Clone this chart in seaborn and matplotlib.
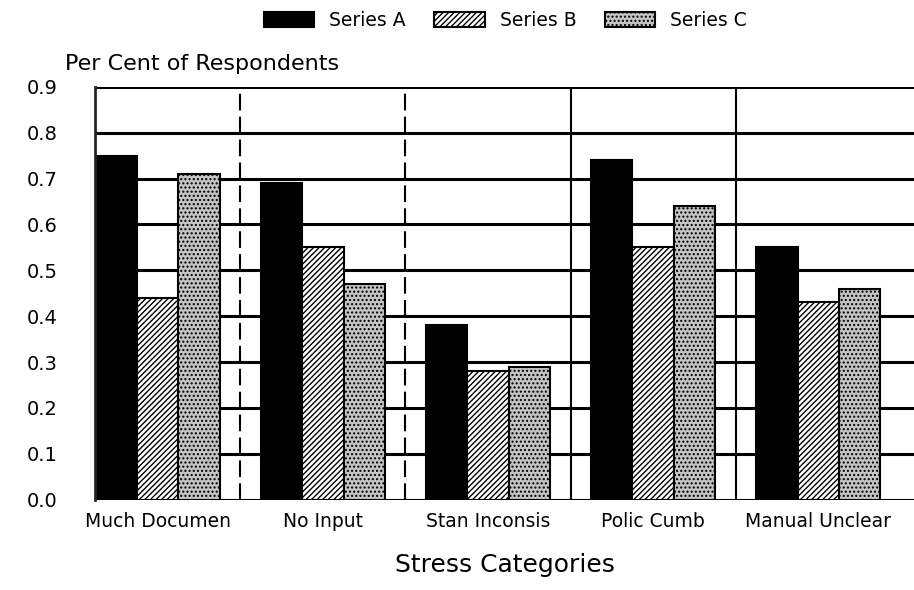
import pandas as pd
import seaborn as sns
import matplotlib.pyplot as plt

# 数据
categories = ['Much Documen', 'No Input', 'Stan Inconsis', 'Polic Cumb', 'Manual Unclear']
series_names = ['Series A', 'Series B', 'Series C']
series_a = [0.75, 0.69, 0.38, 0.74, 0.55]
series_b = [0.44, 0.55, 0.28, 0.55, 0.43]
series_c = [0.71, 0.47, 0.29, 0.64, 0.46]
y_ticks = [0.0, 0.1, 0.2, 0.3, 0.4, 0.5, 0.6, 0.7, 0.8, 0.9]

df = pd.DataFrame({
    'category': categories * 3,
    'series': [s for s in series_names for _ in categories],
    'value': series_a + series_b + series_c,
})

sns.set_style('white')
plt.rcParams['font.family'] = ['DejaVu Sans']
plt.rcParams['hatch.linewidth'] = 1.0
for key in ['text.color', 'axes.labelcolor', 'xtick.color', 'ytick.color']:
    plt.rcParams[key] = 'black'

fig = plt.figure(figsize=(9.14, 5.9), dpi=100)
ax = fig.add_axes([0.104, 0.153, 0.896, 0.70])

# 网格线（画在柱子后面）
for yv in y_ticks:
    ax.axhline(yv, color='black', linewidth=2.2, zorder=0)

colors = {'Series A': 'black', 'Series B': 'white', 'Series C': '#c4c4c4'}
sns.barplot(data=df, x='category', y='value', hue='series', palette=colors,
            width=0.75, saturation=1, edgecolor='black', linewidth=1.5,
            legend=False, ax=ax, zorder=2)

hatches = [None, '//////', '....']
for cont, h in zip(ax.containers, hatches):
    for bar in cont:
        if h:
            bar.set_hatch(h)

# 分组分隔线
for i, xv in enumerate([0.5, 1.5, 2.5, 3.5]):
    ls = (0, (8, 3)) if i < 2 else '-'
    ax.axvline(xv, color='black', linewidth=1.5, linestyle=ls, zorder=1)

ax.set_xlim(-0.38, 4.58)
ax.set_ylim(0, 0.9)
ax.set_yticks(y_ticks)
ax.set_yticklabels([f'{v:.1f}' for v in y_ticks], fontsize=14)
ax.tick_params(axis='x', labelsize=13.5, length=0, pad=9)
ax.tick_params(axis='y', length=0, pad=27)
ax.set_xlabel('Stress Categories', fontsize=18, labelpad=16)
ax.set_ylabel('')

for side in ['top', 'right', 'bottom']:
    ax.spines[side].set_visible(False)
ax.spines['left'].set_linewidth(2)

fig.text(0.071, 0.875, 'Per Cent of Respondents', fontsize=16, ha='left', va='bottom')

handles = [cont[0] for cont in ax.containers]
fig.legend(handles, series_names, loc='center', bbox_to_anchor=(0.553, 0.965),
           ncol=3, frameon=False, fontsize=13.5, handlelength=2.7, handleheight=0.9,
           columnspacing=1.5, handletextpad=0.8)

plt.savefig('out.png', dpi=100)
